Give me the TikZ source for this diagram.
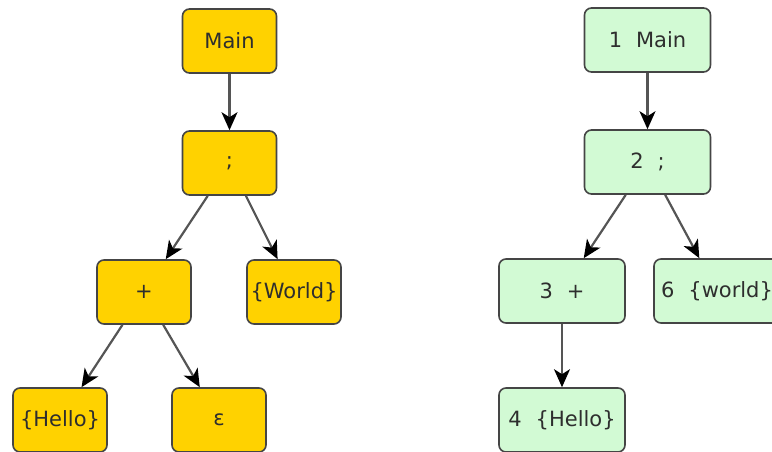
\documentclass[tikz,border=0pt]{standalone}
\usepackage{fontspec}
\setmainfont{DejaVu Sans}
\usetikzlibrary{arrows.meta}
\definecolor{goldfill}{HTML}{FFD200}
\definecolor{greenfill}{HTML}{D2FAD4}
\definecolor{edgegray}{HTML}{454545}
\definecolor{linegray}{HTML}{555555}
\definecolor{txt}{HTML}{2E2E2E}
\tikzset{
  box/.style={draw=edgegray, line width=1.6pt, rounded corners=7pt, inner sep=0pt,
    minimum height=64pt, font=\fontsize{21}{24}\selectfont, text=txt},
  gold/.style={box, fill=goldfill, minimum width=94pt},
  green/.style={box, fill=greenfill, minimum width=126pt},
  link/.style={draw=linegray, line width=2.2pt,
    -{Stealth[length=18pt,width=16pt,inset=5pt,fill=black,color=black]}}
}
\newcommand{\gp}{\hspace{14pt}}
\begin{document}
\begin{tikzpicture}[x=1pt,y=-1pt]
\useasboundingbox (0,0) rectangle (772,451);
\begin{scope}
\clip (0,0) rectangle (772,451);
% left tree
\node[gold] (lmain) at (229.5,41) {Main};
\node[gold] (lsemi) at (229.5,163) {;};
\node[gold] (lplus) at (144,292) {+};
\node[gold] (lworld) at (294,292) {\{World\}};
\node[gold] (lhello) at (60,420) {\{Hello\}};
\node[gold] (leps) at (219,420) {ε};
\draw[link] (lmain) -- (lsemi);
\draw[link] (lsemi) -- (lplus);
\draw[link] (lsemi) -- (lworld);
\draw[link] (lplus) -- (lhello);
\draw[link] (lplus) -- (leps);
% right tree
\node[green] (rmain) at (647.5,40) {1\gp Main};
\node[green] (rsemi) at (647.5,162) {2\gp ;};
\node[green] (rplus) at (562,291) {3\gp +};
\node[green] (rworld) at (717,291) {6\gp\{world\}};
\node[green] (rhello) at (562,420) {4\gp\{Hello\}};
\draw[link] (rmain) -- (rsemi);
\draw[link] (rsemi) -- (rplus);
\draw[link] (rsemi) -- (rworld);
\draw[link] (rplus) -- (rhello);
\end{scope}
\end{tikzpicture}
\end{document}
